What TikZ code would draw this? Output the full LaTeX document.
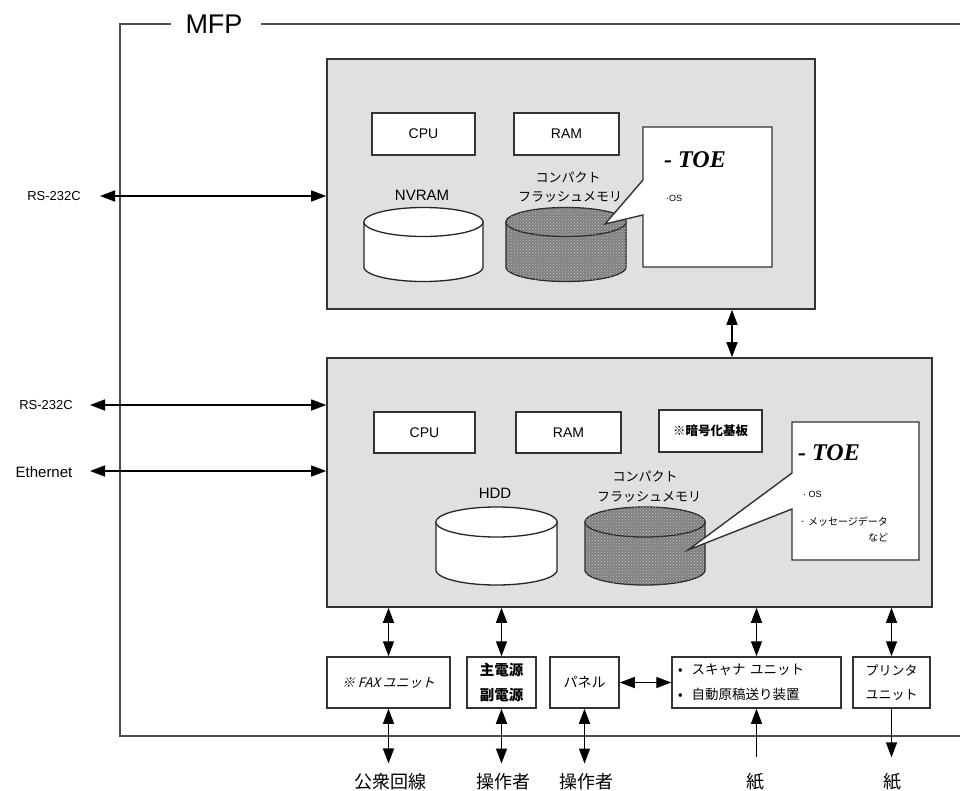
\documentclass[tikz,border=0pt]{standalone}
\usepackage{fontspec}
\setmainfont{Liberation Sans}
\newfontfamily\cjk{Noto Sans CJK JP}
\newfontfamily\cjkit{Noto Sans CJK JP}[FakeSlant=0.25]
\newfontfamily\toefont{Liberation Serif}
\usetikzlibrary{arrows.meta,patterns}

\tikzset{
  board/.style={draw=black!80, line width=1.6pt, fill=black!12, inner sep=0pt},
  wbox/.style={draw=black!80, line width=1.5pt, fill=white, inner sep=0pt, align=center},
  lbl/.style={inner sep=0pt},
  conn/.style={line width=1.4pt, {Triangle[length=15pt,width=11pt]}-{Triangle[length=15pt,width=11pt]}},
  conn1/.style={line width=1.4pt, -{Triangle[length=15pt,width=11pt]}},
  frameline/.style={draw=black!70, line width=1.6pt},
  callout/.style={fill=white, draw=black!80, line width=1.4pt, line join=miter},
  darkdrum/.style={fill=black!50, draw=black!85, line width=1.3pt, postaction={pattern=crosshatch dots, pattern color=black!25}},
  whitedrum/.style={fill=white, draw=black!85, line width=1.3pt},
}

% #1 style, #2 cx, #3 rx, #4 top y, #5 bottom y, #6 ry
\newcommand\mydrum[6]{%
  \path[#1] ({#2-#3},#4) -- ({#2-#3},#5) -- plot[domain=180:0,samples=60] ({#2+#3*cos(\x)},{#5+#6*sin(\x)}) -- ({#2+#3},#4) -- cycle;
  \path[#1] plot[domain=0:360,samples=90] ({#2+#3*cos(\x)},{#4+#6*sin(\x)}) -- cycle;
}

\begin{document}
\begin{tikzpicture}[x=1pt,y=-1pt]
\useasboundingbox (0,0) rectangle (960,791);
\fill[white] (0,0) rectangle (960,791);

% MFP frame
\node[lbl, font=\fontsize{27}{27}\selectfont] (mfp) at (214,24) {MFP};
\draw[frameline] ([xshift=-14pt]mfp.west) -- (120,24) -- (120,736) -- (960,736);
\draw[frameline] ([xshift=18pt]mfp.east) -- (960,24);

% boards
\node[board, minimum width=488pt, minimum height=250pt] (top) at (571,184) {};
\node[board, minimum width=605pt, minimum height=249pt] (bot) at (629.5,482.5) {};

% top board contents
\node[wbox, minimum width=103pt, minimum height=42pt, font=\fontsize{14}{14}\selectfont] (cpu1) at (423.5,134) {CPU};
\node[wbox, minimum width=105pt, minimum height=42pt, font=\fontsize{14}{14}\selectfont] (ram1) at (566.5,134) {RAM};
\node[lbl, font=\fontsize{15}{15}\selectfont] (nv) at (422,195) {NVRAM};
\node[lbl, font=\cjk\fontsize{13}{13}\selectfont] (cf1a) at (568,178) {コンパクト};
\node[lbl, font=\cjk\fontsize{13}{13}\selectfont] (cf1b) at (570,197) {フラッシュメモリ};
\mydrum{whitedrum}{423.5}{59.5}{222}{267}{14.5}
\mydrum{darkdrum}{566}{60}{222}{267}{14.5}
\path[callout] (643,127) -- (772,127) -- (772,267) -- (643,267) -- (643,215) -- (605,224) -- (643,180) -- cycle;
\node[lbl, anchor=west, font=\toefont\bfseries\itshape\fontsize{24}{24}\selectfont] (toe1) at (664,160) {- TOE};
\node[lbl, anchor=west, font=\fontsize{9}{9}\selectfont] (os1) at (666,198) {·OS};

% bottom board contents
\node[wbox, minimum width=101pt, minimum height=41pt, font=\fontsize{14}{14}\selectfont] (cpu2) at (424.5,432.5) {CPU};
\node[wbox, minimum width=105pt, minimum height=41pt, font=\fontsize{14}{14}\selectfont] (ram2) at (568.5,432.5) {RAM};
\node[wbox, minimum width=103pt, minimum height=42pt, font=\cjk\bfseries\fontsize{12.5}{12.5}\selectfont] (enc) at (710.5,431) {※暗号化基板};
\node[lbl, font=\fontsize{15}{15}\selectfont] (hdd) at (495,493) {HDD};
\node[lbl, font=\cjk\fontsize{13}{13}\selectfont] (cf2a) at (645,477) {コンパクト};
\node[lbl, font=\cjk\fontsize{13}{13}\selectfont] (cf2b) at (649,497) {フラッシュメモリ};
\mydrum{whitedrum}{496.5}{60.5}{522}{570}{15}
\mydrum{darkdrum}{645}{60}{522}{570}{15}
\path[callout] (792,422) -- (919,422) -- (919,560) -- (792,560) -- (792,509) -- (688,550) -- (792,473) -- cycle;
\node[lbl, anchor=west, font=\toefont\bfseries\itshape\fontsize{24}{24}\selectfont] (toe2) at (798,453) {- TOE};
\node[lbl, anchor=west, font=\fontsize{9}{9}\selectfont] (os2) at (803,494) {· OS};
\node[lbl, anchor=west, font=\cjk\fontsize{10}{10}\selectfont] (msg) at (800,522) {· メッセージデータ};
\node[lbl, font=\cjk\fontsize{10}{10}\selectfont] (nado) at (878,538) {など};

% bottom units
\node[wbox, minimum width=123pt, minimum height=51pt, font=\cjkit\fontsize{13}{13}\selectfont] (fax) at (388.5,682.5) {※ FAX ユニット};
\node[wbox, minimum width=69pt, minimum height=51pt, font=\cjk\bfseries\fontsize{14.5}{25}\selectfont] (psu) at (501.5,682.5) {主電源\\副電源};
\node[wbox, minimum width=69pt, minimum height=51pt, font=\cjk\fontsize{14}{14}\selectfont] (pan) at (584.5,682.5) {パネル};
\node[wbox, minimum width=169pt, minimum height=51pt, text width=157pt, align=left, font=\cjk\fontsize{13.5}{25}\selectfont] (scan) at (756.5,682.5) {•\ \ スキャナ ユニット\\•\ \ 自動原稿送り装置};
\node[wbox, minimum width=77pt, minimum height=51pt, font=\cjk\fontsize{13}{24}\selectfont] (prn) at (891.5,682.5) {プリンタ\\ユニット};

% external labels
\node[lbl, font=\cjk\fontsize{18}{18}\selectfont] (l1) at (390,782) {公衆回線};
\node[lbl, font=\cjk\fontsize{18}{18}\selectfont] (l2) at (503,782) {操作者};
\node[lbl, font=\cjk\fontsize{18}{18}\selectfont] (l3) at (586,782) {操作者};
\node[lbl, font=\cjk\fontsize{18}{18}\selectfont] (l4) at (755,782) {紙};
\node[lbl, font=\cjk\fontsize{18}{18}\selectfont] (l5) at (892,782) {紙};

\node[lbl, font=\fontsize{13}{13}\selectfont] (rs1) at (54,196) {RS-232C};
\node[lbl, font=\fontsize{13}{13}\selectfont] (rs2) at (46,405) {RS-232C};
\node[lbl, font=\fontsize{15}{15}\selectfont] (eth) at (44,472) {Ethernet};
\coordinate (rs1a) at (100,196);
\coordinate (rs2a) at (90,405);
\coordinate (etha) at (90,471);
\coordinate (vx) at (732,0);

% connectors
\draw[conn] (rs1a) -- (rs1a -| top.west);
\draw[conn] (rs2a) -- (rs2a -| bot.west);
\draw[conn] (etha) -- (etha -| bot.west);
\draw[conn] (vx |- top.south) -- (vx |- bot.north);

\draw[conn] (fax.north) -- (fax.north |- bot.south);
\draw[conn] (psu.north) -- (psu.north |- bot.south);
\draw[conn] (scan.north) -- (scan.north |- bot.south);
\draw[conn] (prn.north) -- (prn.north |- bot.south);
\draw[conn] (pan.east) -- (pan.east -| scan.west);

\draw[conn, shorten >=10pt] (fax.south) -- (fax.south |- l1.north);
\draw[conn, shorten >=10pt] (psu.south) -- (psu.south |- l2.north);
\draw[conn, shorten >=10pt] (pan.south) -- (pan.south |- l3.north);
\draw[conn1, shorten <=16pt] (scan.south |- l4.north) -- (scan.south);
\draw[conn1, shorten >=16pt] (prn.south) -- (prn.south |- l5.north);
\end{tikzpicture}
\end{document}
